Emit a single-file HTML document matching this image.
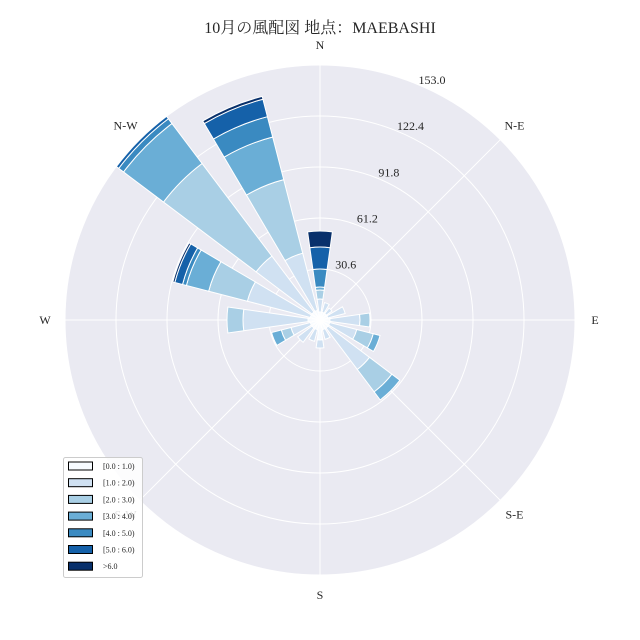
<!DOCTYPE html>
<html><head><meta charset="utf-8"><style>
body{margin:0;background:#fff;}
svg{display:block;font-family:"Liberation Serif","Noto Serif CJK SC",serif;}
</style></head><body>
<svg id="chart" width="640" height="640" viewBox="0 0 640 640">
<text x="320" y="33" text-anchor="middle" font-size="16" fill="#262626">10月の風配図 地点：MAEBASHI</text>
<g id="axes"></g>
<g id="bars"></g>
<g id="labels"></g>
<g id="legend"></g>
</svg>
<script>
const directions = ["N","NNE","NE","ENE","E","ESE","SE","SSE","S","SSW","SW","WSW","W","WNW","NW","NNW"];
const binLabels = ["[0.0 : 1.0)","[1.0 : 2.0)","[2.0 : 3.0)","[3.0 : 4.0)","[4.0 : 5.0)","[5.0 : 6.0)",">6.0"];
const tickValues = [30.6,61.2,91.8,122.4,153.0];
const rMaxValue = 153.0;
// frequency per speed bin (per direction, N clockwise)
const bin0 = [4.8,4.8,4.8,4.8,6,6,6,6,12,6,6,6,7.2,6,6,6];
const bin1 = [7.8,6,4.2,10.8,18,16.8,31.2,6,4.8,7.2,10.8,12,39,39,42,35.4];
const bin2 = [5.4,0,0,0,6,10.2,16.8,0,0,0,0,6,9.6,24,69.6,45.6];
const bin3 = [1.8,0,0,0,0,4.2,6,0,0,0,0,6,0,13.8,30,26.4];
const bin4 = [10.8,0,0,0,0,0,0,0,0,0,0,0,0,2.4,3.6,12.6];
const bin5 = [13.2,0,0,0,0,0,0,0,0,0,0,0,0,4.8,1.8,10.8];
const bin6 = [9.6,0,0,0,0,0,0,0,0,0,0,0,0,1.2,0,1.8];
const bins = [bin0,bin1,bin2,bin3,bin4,bin5,bin6];
const colors = ["#f7fbff","#d0e1f2","#a9cfe5","#6aaed6","#3a8ac1","#1561a9","#08306b"];

const NS="http://www.w3.org/2000/svg";
const cx=320, cy=320, R=255;
const rScale = v => v/rMaxValue*R;
function pt(r,deg){const a=deg*Math.PI/180;return [cx+r*Math.sin(a), cy-r*Math.cos(a)];}
function mk(tag,attrs,parent){const e=document.createElementNS(NS,tag);for(const k in attrs)e.setAttribute(k,attrs[k]);parent.appendChild(e);return e;}

const axes=document.getElementById('axes');
const bg=mk('circle',{cx:cx,cy:cy,r:R,fill:'#eaeaf2'},axes);


tickValues.forEach((t,i)=>{
  const c=mk('circle',{cx:cx,cy:cy,r:rScale(t),fill:'none',stroke:'#fff','stroke-width':1},axes);
  
  
});
for(let k=0;k<8;k++){
  const p=pt(R,k*45);
  const l=mk('line',{x1:cx,y1:cy,x2:p[0],y2:p[1],stroke:'#fff','stroke-width':1},axes);
  
  
}

const barsG=document.getElementById('bars');
const half=8;
directions.forEach((d,i)=>{
  const th=i*22.5;
  let cum=0;
  bins.forEach((b,j)=>{
    const v=b[i]; if(!v) return;
    const r0=rScale(cum), r1=rScale(cum+v); cum+=v;
    const a=pt(r0,th-half), bb=pt(r1,th-half), c=pt(r1,th+half), e=pt(r0,th+half);
    const dstr=`M${a[0]},${a[1]} L${bb[0]},${bb[1]} A${r1},${r1} 0 0 1 ${c[0]},${c[1]} L${e[0]},${e[1]} A${r0},${r0} 0 0 0 ${a[0]},${a[1]}Z`;
    const p=mk('path',{d:dstr,fill:colors[j],stroke:'#fff','stroke-width':1},barsG);
    
    
  });
});

const lab=document.getElementById('labels');
const dirLabels=[["N",0],["N-E",45],["E",90],["S-E",135],["S",180],["S-W",225],["W",270],["N-W",315]];
dirLabels.forEach(([t,deg])=>{
  const p=pt(R+20,deg);
  const tx=mk('text',{x:p[0],y:p[1]+4,'text-anchor':'middle','font-size':12,fill:'#262626'},lab);
  tx.textContent=t;
  
  
});
tickValues.forEach(t=>{
  const p=pt(rScale(t)+10,25);
  const tx=mk('text',{x:p[0],y:p[1]+4,'text-anchor':'middle','font-size':12,fill:'#262626'},lab);
  tx.textContent=t.toFixed(1);
  
  
});

const lg=document.getElementById('legend');
const box=mk('rect',{x:63.5,y:457.5,width:79,height:120,rx:2,fill:'#fff','fill-opacity':0.85,stroke:'#ccc'},lg);


binLabels.forEach((t,j)=>{
  const y=466+j*16.7;
  const r=mk('rect',{x:68.5,y:y-4,width:24,height:8,fill:colors[j],stroke:'#000','stroke-width':1},lg);
  
  
  const tx=mk('text',{x:103,y:y+3,'font-size':8,fill:'#262626'},lg);
  tx.textContent=t;
  
  
});
</script>
</body></html>
